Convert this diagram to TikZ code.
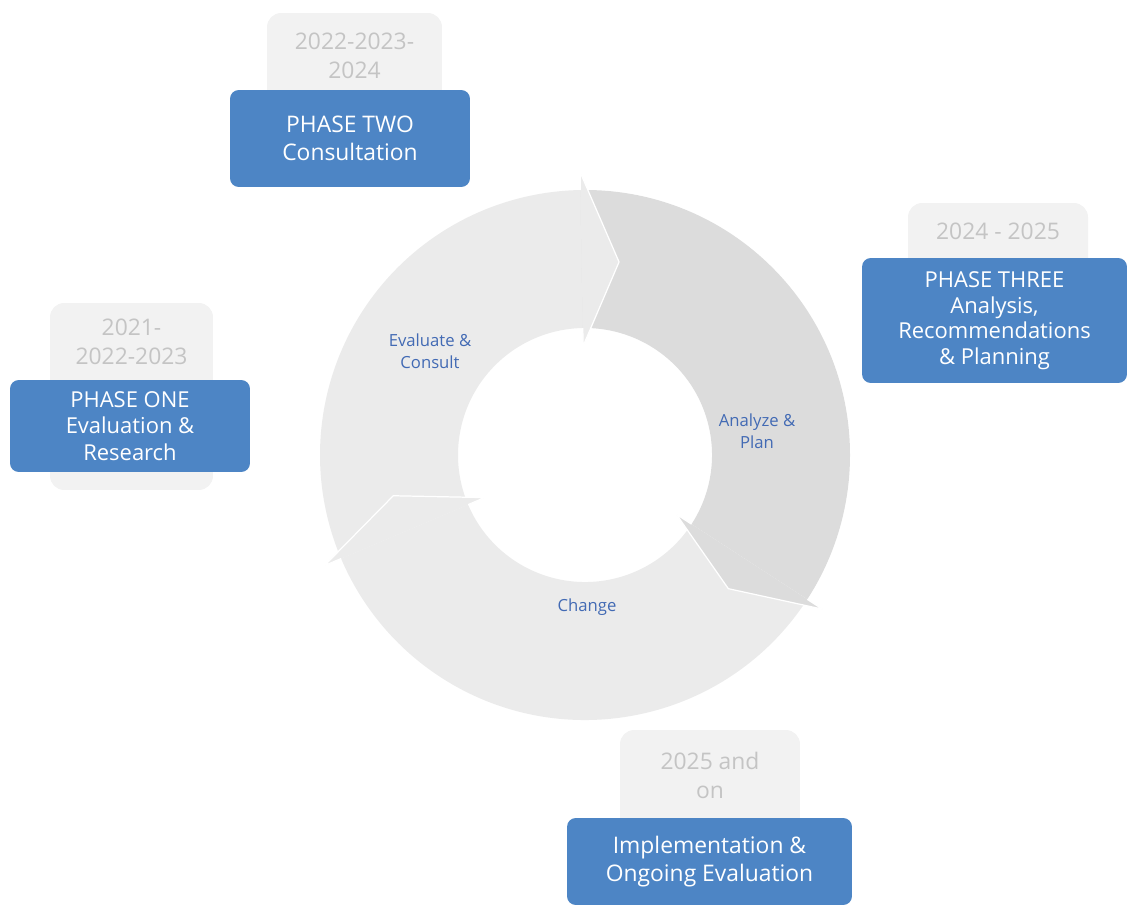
\documentclass[tikz,border=0pt]{standalone}
\usepackage{fontspec}
\setmainfont{Open Sans}
\usepackage{xcolor}
\usepackage{tikz}
\usetikzlibrary{positioning}
\definecolor{phaseblue}{RGB}{77,133,197}
\definecolor{yearfill}{RGB}{242,242,242}
\definecolor{yeartext}{RGB}{196,196,196}
\definecolor{ringlight}{RGB}{235,235,235}
\definecolor{ringdark}{RGB}{220,220,220}
\definecolor{ringtext}{RGB}{66,106,180}

\begin{document}
\begin{tikzpicture}[x=0.02cm, y=0.02cm,
    phase/.style={rectangle, rounded corners=5pt, fill=phaseblue, text=white,
      align=center, inner sep=2pt, font=\fontsize{13}{16}\selectfont},
    yearbox/.style={rectangle, rounded corners=8pt, fill=yearfill},
    year/.style={align=center, text=yeartext, font=\fontsize{13}{16.5}\selectfont},
    cyclelbl/.style={align=center, text=ringtext, font=\fontsize{9.5}{12.5}\selectfont},
    headline/.style={draw=white, line width=0.7pt, line join=round}
]
\useasboundingbox (0,0) rectangle (1128,910);

% cycle ring
\begin{scope}[shift={(585,455)}]
\foreach \s/\b/\c in {203/91/ringlight, 91/-33/ringdark, -33/-157/ringlight}
  \fill[\c] (\s:265) arc[start angle=\s, end angle=\b, radius=265]
    -- (\b:127) arc[start angle=\b, end angle=\s, radius=127] -- cycle;
\foreach \b/\t/\c in {91/80/ringlight, -33/-43/ringdark, -157/-168/ringlight} {
  \fill[\c] (\b:109) -- (\b:283) -- (\t:196) -- cycle;
  \draw[headline] (\b:127) -- (\b:109) -- (\t:196) -- (\b:283) -- (\b:265);
}
\end{scope}

\node[cyclelbl] (evalLbl)   at (430,559) {Evaluate \&\\Consult};
\node[cyclelbl] (planLbl)   at (757,479) {Analyze \&\\Plan};
\node[cyclelbl] (changeLbl) at (587,303) {Change};

% year boxes
\node[yearbox, minimum width=3.5cm, minimum height=3.4cm]   (yrTwo)   at (354.5,812) {};
\node[yearbox, minimum width=3.6cm, minimum height=3.4cm]   (yrThree) at (998,622) {};
\node[yearbox, minimum width=3.26cm, minimum height=3.74cm] (yrOne)   at (131.5,513.5) {};
\node[yearbox, minimum width=3.6cm, minimum height=3.2cm]   (yrFour)  at (710,100) {};
\node[year, below=8pt of yrTwo.north]   (yrTwoTxt)   {2022-2023-\\2024};
\node[year, below=8pt of yrThree.north] (yrThreeTxt) {2024 - 2025};
\node[year, below=6pt of yrOne.north]   (yrOneTxt)   {2021-\\2022-2023};
\node[year, below=9pt of yrFour.north]  (yrFourTxt)  {2025 and\\on};

% phases
\node[phase, minimum width=4.8cm, minimum height=1.94cm] (phTwo) at (350,771.5)
  {PHASE TWO\\Consultation};
\node[phase, minimum width=5.3cm, minimum height=2.5cm,
  font=\fontsize{12.5}{14.5}\selectfont] (phThree) at (994.5,589.5)
  {PHASE THREE\\Analysis,\\Recommendations\\\& Planning};
\node[phase, minimum width=4.8cm, minimum height=1.84cm, font=\fontsize{12.5}{15}\selectfont]
  (phOne) at (130,484) {PHASE ONE\\Evaluation \&\\Research};
\node[phase, minimum width=5.7cm, minimum height=1.74cm] (phFour) at (709.5,48.5)
  {Implementation \&\\Ongoing Evaluation};
\end{tikzpicture}
\end{document}
